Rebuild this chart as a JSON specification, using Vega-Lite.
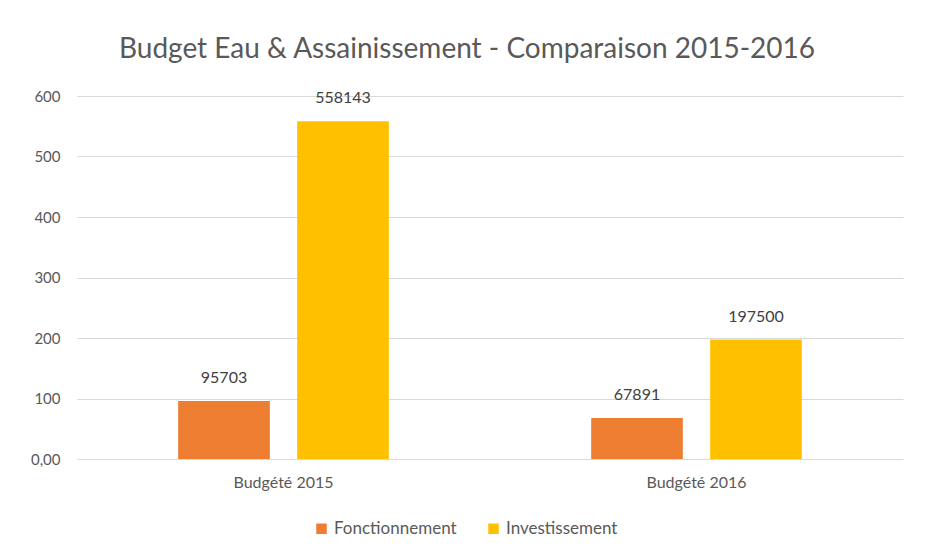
{
  "$schema": "https://vega.github.io/schema/vega-lite/v6.json",
  "width": 826,
  "height": 363,
  "autosize": {"type": "none"},
  "padding": {"left": 77, "top": 96, "right": 25, "bottom": 90},
  "background": "white",
  "title": {
    "text": "Budget Eau & Assainissement - Comparaison 2015-2016",
    "fontSize": 28,
    "font": "Lato",
    "fontWeight": "normal",
    "color": "#595959",
    "anchor": "middle",
    "dx": -23,
    "offset": 25
  },
  "data": {
    "values": [
      {"categorie": "Budgété 2015", "type": "Fonctionnement", "montant": 95703},
      {"categorie": "Budgété 2015", "type": "Investissement", "montant": 558143},
      {"categorie": "Budgété 2016", "type": "Fonctionnement", "montant": 67891},
      {"categorie": "Budgété 2016", "type": "Investissement", "montant": 197500}
    ]
  },
  "encoding": {
    "x": {
      "field": "categorie",
      "type": "nominal",
      "title": null,
      "scale": {"paddingInner": 0.49, "paddingOuter": 0.245},
      "axis": {
        "labelAngle": 0,
        "labelFont": "Lato",
        "labelFontSize": 16,
        "labelColor": "#595959",
        "labelPadding": 15,
        "ticks": false,
        "domain": false
      }
    },
    "xOffset": {"field": "type", "type": "nominal", "scale": {"paddingInner": 0.23, "paddingOuter": 0}},
    "y": {
      "field": "montant",
      "type": "quantitative",
      "title": null,
      "scale": {"domain": [0, 600000], "nice": false},
      "axis": {
        "values": [0, 100000, 200000, 300000, 400000, 500000, 600000],
        "labelExpr": "datum.value == 0 ? '0,00' : format(datum.value / 1000, 'd')",
        "labelFont": "Lato",
        "labelFontSize": 15,
        "labelColor": "#595959",
        "labelPadding": 17,
        "ticks": false,
        "domain": false,
        "grid": true,
        "gridColor": "#D9D9D9",
        "gridWidth": 1
      }
    }
  },
  "layer": [
    {
      "mark": {"type": "bar"},
      "encoding": {
        "color": {
          "field": "type",
          "type": "nominal",
          "scale": {"domain": ["Fonctionnement", "Investissement"], "range": ["#ED7D31", "#FFC000"]},
          "legend": {
            "title": null,
            "orient": "none",
            "legendX": 236,
            "legendY": 424,
            "direction": "horizontal",
            "symbolType": "square",
            "symbolSize": 110,
            "symbolStrokeWidth": 0,
            "labelFont": "Lato",
            "labelFontSize": 17,
            "labelColor": "#595959",
            "columnPadding": 28
          }
        }
      }
    },
    {
      "mark": {"type": "text", "dy": -15, "baseline": "bottom", "font": "Lato", "fontSize": 16, "color": "#404040"},
      "encoding": {
        "text": {"field": "montant", "type": "quantitative", "format": "d"}
      }
    }
  ],
  "config": {
    "view": {"stroke": null}
  }
}
